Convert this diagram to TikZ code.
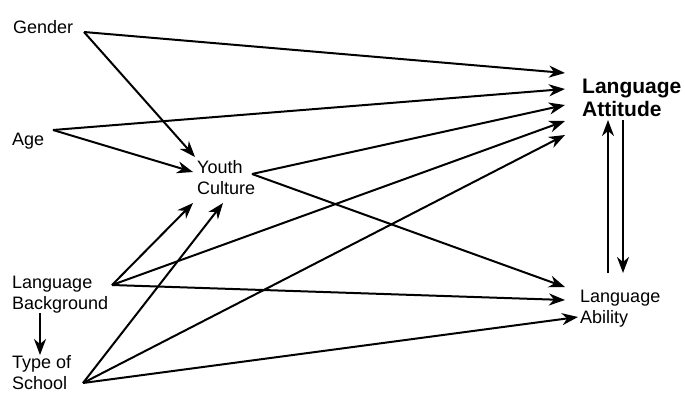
\documentclass[tikz,border=0pt]{standalone}
\usepackage{fontspec}
\setmainfont{Liberation Sans}
\usetikzlibrary{arrows.meta}
\begin{document}
\begin{tikzpicture}[x=1pt,y=-1pt,
  lbl/.style={anchor=north west,inner sep=0pt,align=left,font=\fontsize{18}{21}\selectfont},
  blbl/.style={anchor=north west,inner sep=0pt,align=left,font=\fontsize{21}{23}\selectfont\bfseries},
  arr/.style={line width=2pt,-{Stealth[length=16pt,width=12pt,inset=5pt]}}]
\useasboundingbox (0,0) rectangle (685,394);
% nodes
\node[lbl] (gender) at (13,20) {Gender};
\node[lbl] (age) at (12,133) {Age};
\node[lbl] (yc) at (197,160) {Youth\\Culture};
\node[lbl] (lb) at (12,276) {Language\\Background};
\node[lbl] (ts) at (12,355) {Type of\\School};
\node[blbl] (latt) at (582,79) {Language\\Attitude};
\node[lbl] (labi) at (580,290) {Language\\Ability};
% ports
\coordinate (gO) at (84,32);
\coordinate (aO) at (53,130);
\coordinate (ycG) at (195,157);
\coordinate (ycA) at (193,172);
\coordinate (ycL) at (193,203);
\coordinate (ycT) at (223,203);
\coordinate (ycO) at (252,174);
\coordinate (lbO) at (112,285);
\coordinate (lbD) at (40,313);
\coordinate (tsU) at (40,355);
\coordinate (tsO) at (83,383);
\coordinate (laG) at (565,73);
\coordinate (laA) at (565,89);
\coordinate (laY) at (565,105);
\coordinate (laL) at (565,121);
\coordinate (laT) at (565,135);
\coordinate (laU) at (608,120);
\coordinate (laD) at (623,120);
\coordinate (abY) at (565,287);
\coordinate (abL) at (565,300);
\coordinate (abT) at (578,317);
\coordinate (abU) at (608,273);
\coordinate (abD) at (623,273);
% connectors
\draw[arr] (gO) -- (laG);
\draw[arr] (gO) -- (ycG);
\draw[arr] (aO) -- (laA);
\draw[arr] (aO) -- (ycA);
\draw[arr] (ycO) -- (laY);
\draw[arr] (ycO) -- (abY);
\draw[arr] (lbO) -- (ycL);
\draw[arr] (lbO) -- (laL);
\draw[arr] (lbO) -- (abL);
\draw[arr] (lbD) -- (tsU);
\draw[arr] (tsO) -- (ycT);
\draw[arr] (tsO) -- (laT);
\draw[arr] (tsO) -- (abT);
\draw[arr] (abU) -- (laU);
\draw[arr] (laD) -- (abD);
\end{tikzpicture}
\end{document}
